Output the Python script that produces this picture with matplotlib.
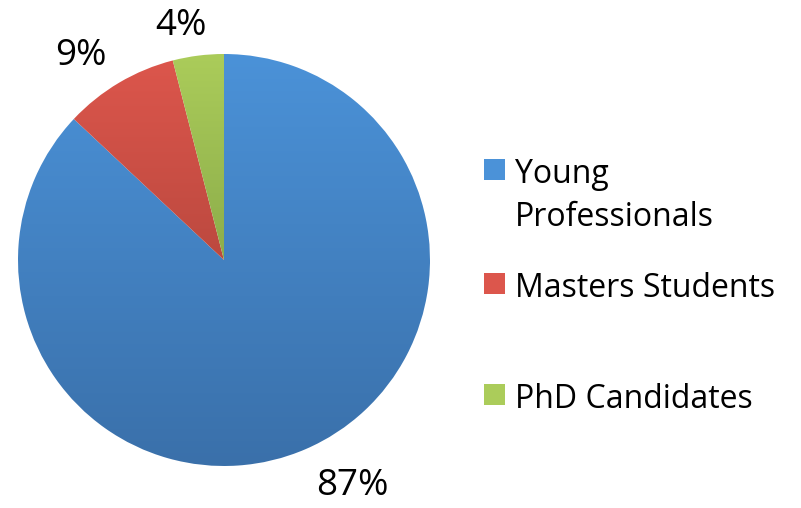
#!/usr/bin/env python3
import textwrap

import numpy as np
import matplotlib
matplotlib.use("Agg")
from matplotlib import pyplot as plt
from matplotlib.colors import LinearSegmentedColormap
from matplotlib.patches import Rectangle

categories = ["Young Professionals", "Masters Students", "PhD Candidates"]
shares = [87, 9, 4]
pct_labels = ["87%", "9%", "4%"]

# top / bottom shades of each slice (soft vertical gradient)
top_colors = ["#4b92d8", "#dc564c", "#abcc5a"]
bottom_colors = ["#3a70aa", "#bc493f", "#8cad4a"]

W, H = 801, 508
FONT = "Open Sans"


def gradient_fill(ax, patch, c_top, c_bot, extent):
    cmap = LinearSegmentedColormap.from_list("g", [c_bot, c_top])
    grad = np.linspace(0, 1, 256).reshape(-1, 1)
    im = ax.imshow(grad, cmap=cmap, origin="lower", extent=extent,
                   aspect="auto", zorder=patch.get_zorder())
    im.set_clip_path(patch)
    return im


def main():
    fig = plt.figure(figsize=(W / 100, H / 100), dpi=100)

    # pie centre (224, 260) px, radius 206 px
    cx, cy, r = 224, 260, 206
    ax = fig.add_axes([(cx - r) / W, (H - cy - r) / H, 2 * r / W, 2 * r / H])

    wedges, _ = ax.pie(shares, startangle=90, counterclock=False,
                       radius=1.0, wedgeprops=dict(linewidth=0))
    ax.set_xlim(-1, 1)
    ax.set_ylim(-1, 1)
    ax.set_aspect("equal")

    for w, ct, cb in zip(wedges, top_colors, bottom_colors):
        w.set_facecolor("none")
        bb = w.get_path().get_extents(w.get_patch_transform())
        gradient_fill(ax, w, ct, cb, [-1, 1, bb.y0, bb.y1])

    # percentage labels, anchored by their nearest corner on the slice bisector
    for w, txt in zip(wedges, pct_labels):
        mid = np.deg2rad((w.theta1 + w.theta2) / 2)
        x, y = 1.12 * np.cos(mid), 1.10 * np.sin(mid)
        ha = "left" if x > 0 else "right"
        va = "top" if y < 0 else "baseline"
        if abs(x) < 0.2:
            x *= 0.6
        ax.text(x, y, txt, ha=ha, va=va, fontsize=26.5, family=FONT,
                color="black", clip_on=False)

    # legend drawn by hand: squares + wrapped labels
    baselines = [183, 297, 408]
    sq = 21
    for name, ct, cb, base in zip(categories, top_colors, bottom_colors, baselines):
        lab = textwrap.fill(name, 16)
        rect = Rectangle((484 / W, (H - base + 3) / H), sq / W, sq / H,
                         transform=fig.transFigure, facecolor=ct,
                         edgecolor="none")
        fig.patches.append(rect)
        for i, line in enumerate(lab.split("\n")):
            fig.text(515 / W, (H - base - 43 * i) / H, line, ha="left",
                     va="baseline", fontsize=23, family=FONT, color="black")

    fig.savefig("out.png", dpi=100, facecolor="white")


if __name__ == "__main__":
    main()
